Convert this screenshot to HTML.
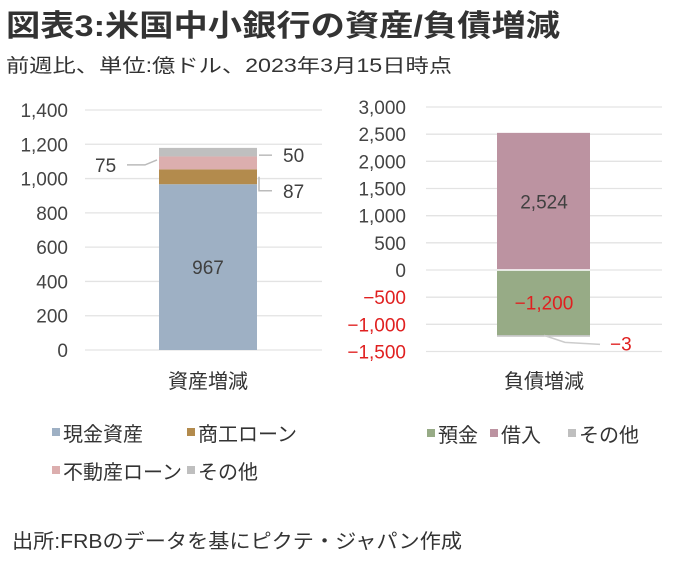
<!DOCTYPE html>
<html><head><meta charset="utf-8"><style>
body{margin:0;background:#fff;width:679px;height:566px;overflow:hidden}
svg{font-family:"Liberation Sans","Noto Sans CJK JP",sans-serif}
</style></head><body>
<svg id="c" width="679" height="566" xmlns="http://www.w3.org/2000/svg">
<text x="6" y="36" font-size="30" font-weight="bold" fill="#333" textLength="554" lengthAdjust="spacingAndGlyphs">図表3:米国中小銀行の資産/負債増減</text>
<text x="6" y="72" font-size="19" fill="#333" textLength="446" lengthAdjust="spacingAndGlyphs">前週比、単位:億ドル、2023年3月15日時点</text>
<g id="left"></g>
<g id="right"></g>
<g id="legend"></g>
<text x="12" y="548" font-size="20" fill="#333" textLength="450" lengthAdjust="spacingAndGlyphs">出所:FRBのデータを基にピクテ・ジャパン作成</text>
</svg>
<script>
const assetNames=["現金資産","商工ローン","不動産ローン","その他"];
const assetValues=[967,87,75,50];
const assetColors=["#9eb0c4","#b38b4d","#dcaeae","#bfbfbf"];
const leftTicks=[0,200,400,600,800,1000,1200,1400];
const liabNames=["預金","借入","その他"];
const liabValues=[-1200,2524,-3];
const liabColors=["#97ab86","#bc93a1","#bfbfbf"];
const rightTicks=[-1500,-1000,-500,0,500,1000,1500,2000,2500,3000];
const NS="http://www.w3.org/2000/svg";
function mk(p,t,a,txt){const e=document.createElementNS(NS,t);for(const k in a)e.setAttribute(k,a[k]);if(txt!==undefined)e.textContent=txt;p.appendChild(e);return e;}
function fmt(v){return v.toLocaleString("en-US").replace("-","−");}
// left
const L=document.getElementById("left");
const ly=v=>350-v*(240/1400);
leftTicks.forEach(t=>{
 const g=mk(L,"line",{x1:85,x2:322,y1:ly(t),y2:ly(t),stroke:"#e3e3e3","stroke-width":1.3});
 
 const tx=mk(L,"text",{x:68,y:ly(t)+7,"font-size":19,fill:"#444","text-anchor":"end"},t.toLocaleString("en-US"));
 
});
let base=0;const segs=[];
assetValues.forEach((v,i)=>{
 const r=mk(L,"rect",{x:159,width:98,y:ly(base+v),height:ly(base)-ly(base+v),fill:assetColors[i]});
 
 segs.push([base,base+v]);base+=v;
});
const l0=mk(L,"text",{x:208,y:(ly(segs[0][0])+ly(segs[0][1]))/2+7,"font-size":19,fill:"#404040","text-anchor":"middle"},fmt(assetValues[0]));

let m=(ly(segs[1][0])+ly(segs[1][1]))/2;
mk(L,"polyline",{points:`259,${m} 259,${m+14} 272,${m+14}`,fill:"none",stroke:"#bbb","stroke-width":1.5});
let t1=mk(L,"text",{x:283,y:m+21,"font-size":19,fill:"#404040"},fmt(assetValues[1]));

m=(ly(segs[2][0])+ly(segs[2][1]))/2;
mk(L,"polyline",{points:`157,${m-3} 145,${m+2} 127,${m+2}`,fill:"none",stroke:"#bbb","stroke-width":1.5});
let t2=mk(L,"text",{x:95,y:m+9,"font-size":19,fill:"#404040"},fmt(assetValues[2]));

m=(ly(segs[3][0])+ly(segs[3][1]))/2;
mk(L,"line",{x1:259,x2:272,y1:m+3,y2:m+3,stroke:"#bbb","stroke-width":1.5});
let t3=mk(L,"text",{x:283,y:m+10,"font-size":19,fill:"#404040"},fmt(assetValues[3]));

let c1=mk(L,"text",{x:208,y:388,"font-size":20,fill:"#333","text-anchor":"middle"},"資産増減");

// right
const R=document.getElementById("right");
const ry=v=>270-v*(163/3000);
rightTicks.forEach(t=>{
 const g=mk(R,"line",{x1:426,x2:662,y1:ry(t),y2:ry(t),stroke:"#e3e3e3","stroke-width":1.3});
 
 const tx=mk(R,"text",{x:406,y:ry(t)+7,"font-size":19,fill:t<0?"#e02020":"#444","text-anchor":"end"},fmt(t));
 
});
let pos=0,neg=0;const rs=[];
liabValues.forEach((v,i)=>{
 let a,b;if(v>=0){a=pos;b=pos+v;pos=b;}else{a=neg+v;b=neg;neg=a;}
 const r=mk(R,"rect",{x:497,width:93,y:ry(b),height:Math.max(ry(a)-ry(b),1.5),fill:liabColors[i]});
 
 rs.push([a,b]);
});
mk(R,"line",{x1:497,x2:590,y1:ry(0),y2:ry(0),stroke:"#fff","stroke-width":1.5});
[0,1].forEach(i=>{
 const v=liabValues[i];
 const t=mk(R,"text",{x:544,y:(ry(rs[i][0])+ry(rs[i][1]))/2+7,"font-size":19,fill:v<0?"#e02020":"#404040","text-anchor":"middle"},fmt(v));
 
});
const oy=ry(rs[2][0]);
mk(R,"polyline",{points:`544,${oy} 565,${oy+7} 600,${oy+9}`,fill:"none",stroke:"#ccc","stroke-width":1.5});
let t4=mk(R,"text",{x:610,y:oy+15,"font-size":19,fill:"#e02020"},fmt(liabValues[2]));

let c2=mk(R,"text",{x:544,y:388,"font-size":20,fill:"#333","text-anchor":"middle"},"負債増減");

// legend
const G=document.getElementById("legend");
const items=[[52,433,0,0],[187,433,0,1],[52,471,0,2],[187,471,0,3],[427,434,1,0],[490,434,1,1],[568,434,1,2]];
items.forEach(([x,y,s,i])=>{
 const col=s?liabColors[i]:assetColors[i],nm=s?liabNames[i]:assetNames[i];
 const r=mk(G,"rect",{x:x,y:y-5,width:8,height:8,fill:col});
 
 const t=mk(G,"text",{x:x+11,y:y+8,"font-size":20,fill:"#333"},nm);
 
});
</script>
</body></html>
